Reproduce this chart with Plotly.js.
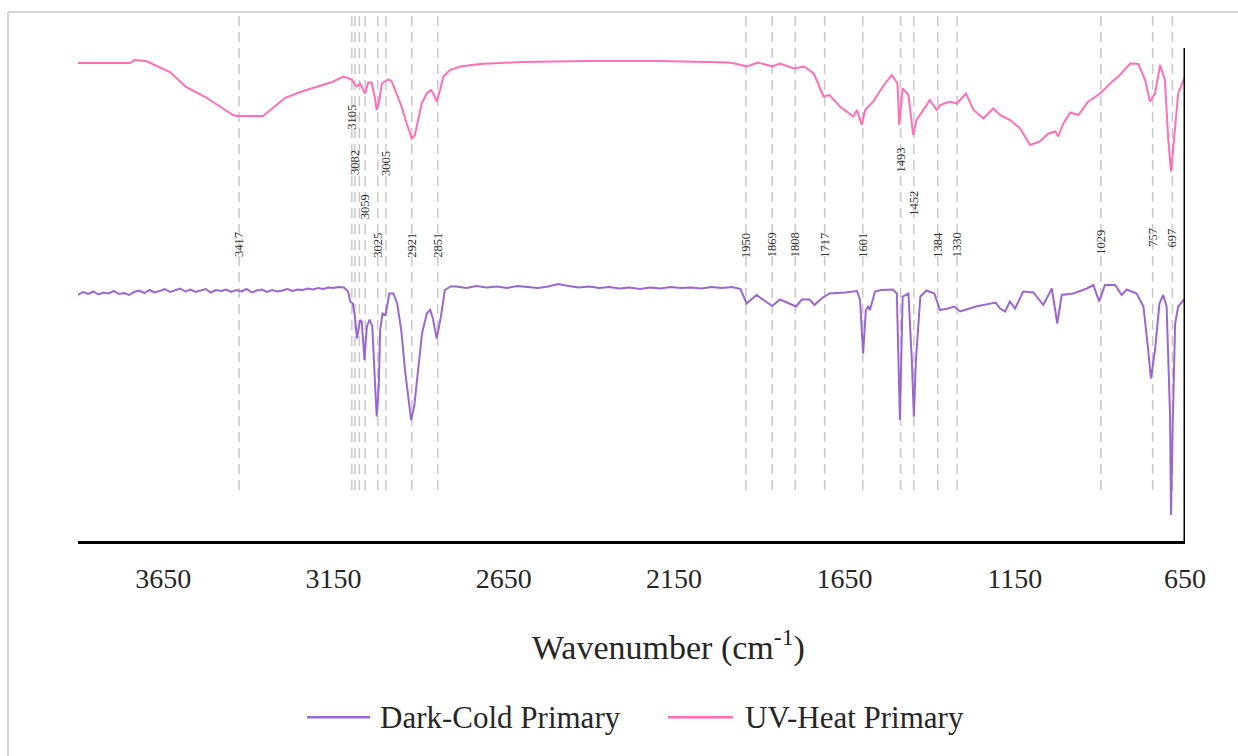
<!DOCTYPE html>
<html>
<head>
<meta charset="utf-8">
<script src="https://cdn.plot.ly/plotly-3.0.1.min.js"></script>
<style>html,body{margin:0;padding:0;background:#fff;}#chart{width:1238px;height:756px;}</style>
</head>
<body>
<div id="chart"></div>
<script>
// ---------- data ----------
const seriesNames = ["Dark-Cold Primary", "UV-Heat Primary"];
const seriesColors = ['#9a67d0', '#ff6fb5'];

const uvHeatWavenumber = [3900,3747,3735,3700,3630,3583,3526,3480,3445,3433,3357,3328,3293,3248,3201,3154,3121,3096,3087,3080,3072,3062,3057,3048,3038,3028,3023,3016,3008,2999,2989,2979,2964,2950,2935,2920,2911,2901,2891,2876,2864,2857,2847,2837,2827,2808,2778,2720,2600,2400,2200,2050,1990,1972,1937,1904,1862,1839,1798,1768,1740,1711,1694,1663,1624,1613,1599,1589,1565,1537,1511,1494,1489,1479,1462,1448,1438,1399,1379,1369,1340,1320,1293,1271,1242,1213,1193,1164,1134,1105,1076,1051,1031,1022,1007,987,963,934,899,870,841,811,787,767,753,738,723,709,699,691,679,670,650];
const uvHeatValue = [95.6,95.6,96.2,96.0,93.8,90.8,88.8,86.8,85.2,85.0,85.0,86.6,88.6,89.8,90.8,91.8,92.9,92.3,91.2,90.9,91.5,90.2,89.5,91.7,91.7,88.5,86.2,87.9,91.5,91.9,92.3,91.9,89.5,86.9,83.5,80.5,81.2,84.2,87.5,89.5,90.2,89.5,87.9,90.2,92.9,94.2,94.9,95.4,95.8,96.0,96.0,95.8,95.7,95.5,94.9,95.7,94.9,95.5,94.5,94.9,93.5,88.9,89.2,86.9,84.9,86.2,83.2,86.2,87.9,90.9,93.2,91.5,83.2,90.5,89.2,81.2,84.2,88.2,86.2,87.2,87.9,87.5,89.5,86.2,84.5,86.5,85.2,84.2,82.5,79.2,79.9,81.5,81.9,80.9,83.5,85.7,85.2,87.9,89.5,91.5,93.2,95.5,95.4,92.2,87.9,89.5,95.2,92.2,80.2,73.9,83.5,89.5,92.9];

const darkColdWavenumber = [3900,3885,3870,3855,3840,3825,3810,3795,3780,3765,3750,3735,3720,3705,3690,3675,3660,3645,3630,3615,3600,3585,3570,3555,3540,3525,3510,3495,3480,3465,3450,3435,3420,3405,3390,3375,3360,3345,3330,3315,3300,3285,3270,3255,3240,3225,3210,3195,3180,3165,3150,3135,
3119,3107,3101,3093,3087,3081,3072,3067,3059,3052,3044,3036,3029,3023,3017,3013,3006,2997,2986,2974,2963,2951,2940,2928,2922,2913,2901,2890,2876,2866,2858,2847,2835,2823,2806,
2790,2760,2730,2700,2670,2640,2610,2580,2550,2520,2490,2460,2430,2400,2370,2340,2310,2280,2250,2220,2190,2160,2130,2100,2070,2040,2010,1980,1955,
1937,1908,1862,1839,1792,1775,1752,1738,1717,1694,1648,1613,1604,1595,1587,1580,1575,1560,1542,1508,1496,1487,1479,1462,1452,1446,1440,1427,1409,1386,1369,1346,1328,1310,1264,1206,1193,1178,1164,1149,1125,1095,1066,1041,1025,1012,978,938,919,902,885,855,836,821,792,772,758,750,738,725,714,704,694,691,686,679,670,650];
const darkColdValue = [49.2,49.8,49.4,49.9,49.3,49.7,49.5,50.0,49.4,49.6,49.2,49.8,50.1,49.6,50.2,49.7,50.0,50.4,49.8,50.2,50.5,49.9,50.3,49.8,50.1,50.4,49.7,50.2,50.0,50.3,49.8,50.2,49.9,50.4,49.7,50.1,50.3,49.8,50.2,49.9,50.1,50.4,50.0,50.3,50.2,50.5,50.3,50.6,50.4,50.7,50.6,50.8,
50.7,49.9,47.9,47.5,44.9,40.5,44.2,43.9,36.2,42.9,44.3,42.9,32.9,24.9,30.9,42.2,45.5,45.2,49.5,49.5,47.5,42.2,34.2,26.9,24.2,26.9,34.2,41.5,45.5,46.2,44.5,40.5,44.7,50.2,50.9,
50.9,50.6,51.0,50.7,50.9,50.6,51.0,50.8,50.6,50.9,51.4,51.0,50.7,50.9,50.6,50.8,50.5,50.7,50.4,50.7,50.5,50.8,50.6,50.7,50.5,50.8,50.6,50.8,50.4,
47.5,49.2,47.0,48.3,46.9,48.3,48.3,47.2,48.5,49.5,49.7,50.0,48.2,37.5,46.2,46.9,46.2,49.9,50.2,50.3,49.5,24.2,48.9,49.5,36.2,24.9,36.2,48.9,50.1,49.5,46.2,46.5,46.9,45.9,46.9,47.7,46.5,45.9,47.9,46.5,49.9,49.7,47.2,50.5,43.5,49.2,49.5,50.5,51.2,47.9,51.2,51.2,49.2,50.3,49.5,46.9,38.2,32.5,38.2,47.5,49.2,46.9,25.5,5.2,23.5,43.5,46.9,48.5];

const tickValues = [3650, 3150, 2650, 2150, 1650, 1150, 650];
const tickLabels = ["3650", "3150", "2650", "2150", "1650", "1150", "650"];
const xTitle = 'Wavenumber (cm<sup>-1</sup>)';

// peak marker lines: label text and position (cm-1)
const peakLabels = ["3417","3105","3082","","3059","3025","3005","2921","2851","1950","1869","1808","1717","1601","1493","1452","1384","1330","1029","757","697"];
const peakPos    = [3427,3096,3087,3074,3057,3020,2996,2920,2844,1939,1862,1794,1708,1596,1485,1446,1376,1319,897,745,687];

// ---------- layout helpers (positions) ----------
const labelY = [59.2,84.8,75.8,0,66.8,59.2,75.6,59.2,59.2,59.2,59.2,59.2,59.2,59.2,76.2,67.6,59.2,59.2,59.8,60.8,60.6];
const legendLineX = [[0.2069, 0.2638], [0.5330, 0.5917]];
const legendTextX = [0.2710, 0.6007];
const legendY = -0.333;
const serif = "'Liberation Serif', 'Times New Roman', serif";

const traces = [
  {x: darkColdWavenumber, y: darkColdValue, name: seriesNames[0], type: 'scatter', mode: 'lines',
   line: {color: seriesColors[0], width: 2}},
  {x: uvHeatWavenumber, y: uvHeatValue, name: seriesNames[1], type: 'scatter', mode: 'lines',
   line: {color: seriesColors[1], width: 2}}
];

const shapes = [];
peakPos.forEach(p => {
  shapes.push({type: 'line', xref: 'x', yref: 'y', x0: p, x1: p, y0: 10.2, y1: 105.4, layer: 'below',
    line: {color: '#c8c8c8', width: 1.5, dash: '10px,6px'}});
});
// right border line of plot
shapes.push({type: 'line', xref: 'x', yref: 'y', x0: 650, x1: 650, y0: 0, y1: 98.6,
  line: {color: '#000', width: 3}});
// outer chart frame (top and left)
shapes.push({type: 'line', xref: 'paper', yref: 'paper', x0: -0.0632, x1: 1.1, y0: 1, y1: 1,
  line: {color: '#d4d4d4', width: 2}});
shapes.push({type: 'line', xref: 'paper', yref: 'paper', x0: -0.0632, x1: -0.0632, y0: 1, y1: -0.5,
  line: {color: '#d4d4d4', width: 2}});

const annotations = [];
peakLabels.forEach((t, i) => {
  if (!t) return;
  annotations.push({x: peakPos[i], y: labelY[i], xref: 'x', yref: 'y', text: t, showarrow: false,
    textangle: -90, xanchor: 'center', yanchor: 'middle',
    font: {family: serif, size: 12.5, color: '#333'}});
});
// axis title
annotations.push({x: 0.533, y: -0.1966, xref: 'paper', yref: 'paper', text: xTitle, showarrow: false,
  xanchor: 'center', yanchor: 'middle', font: {family: serif, size: 34, color: '#262626'}});
// legend (drawn with lines and text)
seriesNames.forEach((n, i) => {
  shapes.push({type: 'line', xref: 'paper', yref: 'paper', x0: legendLineX[i][0], x1: legendLineX[i][1],
    y0: legendY, y1: legendY, line: {color: seriesColors[i], width: 2.5}});
  annotations.push({x: legendTextX[i], y: legendY, xref: 'paper', yref: 'paper', text: n, showarrow: false,
    xanchor: 'left', yanchor: 'middle', font: {family: serif, size: 31, color: '#262626'}});
});

const layout = {
  width: 1238, height: 756,
  margin: {l: 78, r: 53, t: 12, b: 215},
  paper_bgcolor: '#fff', plot_bgcolor: '#fff',
  showlegend: false,
  xaxis: {range: [3900, 650], showgrid: false, zeroline: false, showline: true, linecolor: '#000', linewidth: 3,
    ticks: '', tickmode: 'array', tickvals: tickValues, ticktext: tickLabels, ticklabelstandoff: 10,
    tickfont: {family: serif, size: 28, color: '#262626'}},
  yaxis: {range: [0, 105.8], visible: false, showgrid: false, zeroline: false},
  shapes: shapes,
  annotations: annotations
};

Plotly.newPlot('chart', traces, layout, {displayModeBar: false, staticPlot: true});
</script>
</body>
</html>
